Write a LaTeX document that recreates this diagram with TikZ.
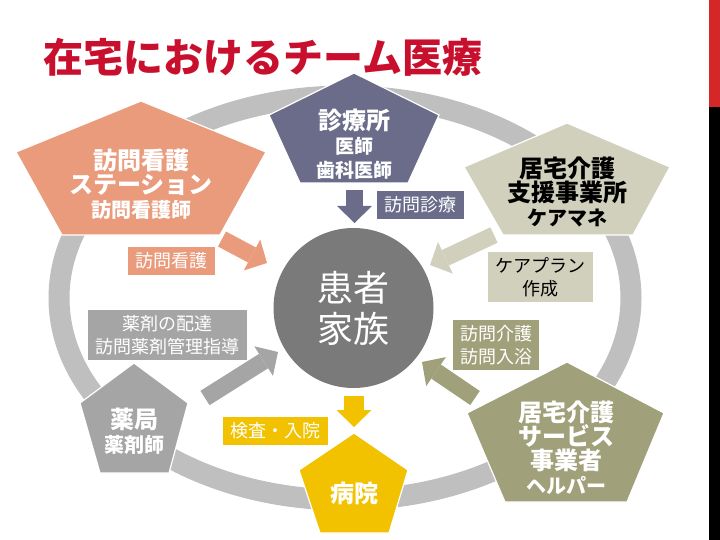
\documentclass[tikz,border=0pt]{standalone}
\usepackage{fontspec}
\setmainfont{Noto Sans CJK JP}
\usepackage{tikz}
\usetikzlibrary{arrows.meta}

\definecolor{titlered}{RGB}{200,16,46}
\definecolor{barred}{RGB}{214,39,40}
\definecolor{ringgray}{RGB}{191,191,191}
\definecolor{nursecol}{RGB}{233,155,124}
\definecolor{cliniccol}{RGB}{106,108,138}
\definecolor{cmcol}{RGB}{209,208,188}
\definecolor{pharmcol}{RGB}{165,165,165}
\definecolor{hospcol}{RGB}{242,194,0}
\definecolor{helpcol}{RGB}{160,160,122}
\definecolor{patcol}{RGB}{122,122,122}

\tikzset{
    pent/.style={draw=white, line width=1.2pt},
    big/.style={font=\bfseries\fontsize{24}{24}\selectfont, align=center, text=white, inner sep=0pt},
    tag/.style={font=\fontsize{18}{23}\selectfont, align=center, text=white, inner sep=0pt},
    blockarrow/.style={line width=17pt, -{Triangle[width=35pt 0 0, length=17pt 0 0, line width=0pt]}}
}

\begin{document}
\begin{tikzpicture}[x=1pt, y=-1pt]
    \useasboundingbox (0,0) rectangle (720,540);
    \fill[barred] (709,0) rectangle (720,107);
    \fill[black] (709,107) rectangle (720,540);

    \node[anchor=west, inner sep=0pt, text=titlered, font=\bfseries\fontsize{40}{40}\selectfont] (title) at (43,57) {在宅におけるチーム医療};

    % ring
    \draw[ringgray, line width=21pt] (345,298) ellipse [x radius=286pt, y radius=202pt];

    % pentagons
    \filldraw[pent, fill=nursecol] (141,101) -- (266,152) -- (220,235) -- (62,235) -- (16,152) -- cycle;
    \filldraw[pent, fill=cliniccol] (354,73) -- (439,115) -- (408,183) -- (300,183) -- (269,115) -- cycle;
    \filldraw[pent, fill=cmcol] (567,123) -- (670,167) -- (633,235) -- (503,235) -- (464,167) -- cycle;
    \filldraw[pent, fill=pharmcol] (134,363) -- (188,403) -- (169,473) -- (100,473) -- (80,403) -- cycle;
    \filldraw[pent, fill=hospcol] (354,433) -- (408,470) -- (389,533) -- (320,533) -- (299,470) -- cycle;
    \filldraw[pent, fill=helpcol] (567,362) -- (664,413) -- (627,502) -- (505,502) -- (467,413) -- cycle;

    \node[big] (nurse) at (141,184) {訪問看護\\ステーション\\{\fontsize{20}{20}\selectfont 訪問看護師}};
    \node[big] (clinic) at (354,144) {診療所\\{\fontsize{19}{19}\selectfont 医師}\\{\fontsize{19}{19}\selectfont 歯科医師}};
    \node[big, text=black] (cm) at (567,192) {居宅介護\\支援事業所\\{\fontsize{20}{20}\selectfont ケアマネ}};
    \node[big] (pharm) at (134,431) {薬局\\{\fontsize{20}{20}\selectfont 薬剤師}};
    \node[big] (hosp) at (354,493) {病院};
    \node[big] (helper) at (566,448) {居宅介護\\サービス\\事業者\\{\fontsize{20}{20}\selectfont ヘルパー}};

    % patient
    \node[circle, fill=patcol, minimum size=160pt, inner sep=0pt, text=white, align=center, font=\fontsize{36}{41}\selectfont] (pat) at (353.5,308) {患者\\家族};

    % arrows
    \coordinate (clinic_a) at (354.5,190);
    \coordinate (clinic_b) at (354.5,223);
    \coordinate (nurse_a) at (222,239);
    \coordinate (nurse_b) at (267,263);
    \coordinate (cm_a) at (494,235);
    \coordinate (cm_b) at (430,265);
    \coordinate (pharm_a) at (205,398);
    \coordinate (pharm_b) at (278,352);
    \coordinate (helper_a) at (475,398);
    \coordinate (helper_b) at (422,362);
    \coordinate (hosp_a) at (354,396);
    \coordinate (hosp_b) at (354,427);
    \draw[blockarrow, cliniccol] (clinic_a) -- (clinic_b);
    \draw[blockarrow, nursecol] (nurse_a) -- (nurse_b);
    \draw[blockarrow, cmcol] (cm_a) -- (cm_b);
    \draw[blockarrow, pharmcol] (pharm_a) -- (pharm_b);
    \draw[blockarrow, helpcol] (helper_a) -- (helper_b);
    \draw[blockarrow, hospcol, line width=20pt] (hosp_a) -- (hosp_b);

    % labels
    \node[tag, fill=cliniccol, minimum width=87pt, minimum height=28pt] (visit) at (420.5,205) {訪問診療};
    \node[tag, fill=nursecol, minimum width=87pt, minimum height=28pt] (nursing) at (171.5,261) {訪問看護};
    \node[tag, fill=pharmcol, minimum width=159pt, minimum height=50pt] (drug) at (167.5,335) {薬剤の配達\\訪問薬剤管理指導};
    \node[tag, fill=cmcol, text=black, minimum width=105pt, minimum height=50pt] (plan) at (540.5,277) {ケアプラン\\作成};
    \node[tag, fill=helpcol, minimum width=86pt, minimum height=50pt] (care) at (496,345) {訪問介護\\訪問入浴};
    \node[tag, fill=hospcol, minimum width=105pt, minimum height=28pt] (exam) at (275.5,431) {検査・入院};
\end{tikzpicture}
\end{document}
